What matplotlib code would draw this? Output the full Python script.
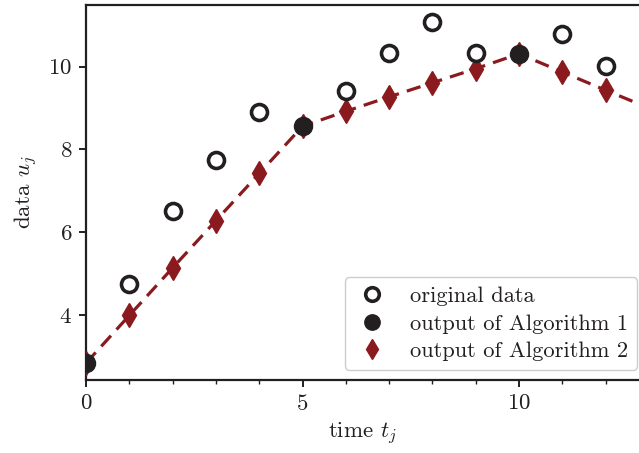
import numpy as np
import matplotlib
matplotlib.use("Agg")
import matplotlib.pyplot as plt

plt.rcParams['font.family'] = 'serif'
plt.rcParams['font.serif'] = ['cmr10', 'DejaVu Serif']
plt.rcParams['mathtext.fontset'] = 'cm'
plt.rcParams['axes.formatter.use_mathtext'] = True

# original data
t_data = [1, 2, 3, 4, 6, 7, 8, 9, 11, 12]
u_data = [4.74, 6.51, 7.75, 8.91, 9.40, 10.32, 11.08, 10.32, 10.79, 10.02]

# Algorithm 1 output
t_alg1 = [0, 5, 10]
u_alg1 = [2.84, 8.56, 10.31]

# Algorithm 2 output
t_alg2 = [0, 1, 2, 3, 4, 5, 6, 7, 8, 9, 10, 11, 12, 13]
u_alg2 = [2.84, 3.99, 5.14, 6.28, 7.42, 8.56, 8.92, 9.27, 9.61, 9.95, 10.31, 9.87, 9.43, 9.0]

dark = '#231f20'
red = '#8b1a1f'
fs = 16.5

fig = plt.figure(figsize=(6.39, 4.53), dpi=100)
ax = fig.add_axes([0.1346, 0.161, 0.8654, 0.829])

ax.plot(t_alg2, u_alg2, '--', color=red, lw=2.3, dashes=(4.5, 2.6), zorder=2)
ax.plot(t_alg2, u_alg2, 'd', color=red, ms=12, ls='none', zorder=3,
        label='output of Algorithm 2')
ax.plot(t_data, u_data, 'o', mfc='white', mec=dark, mew=2.6, ms=11.5,
        ls='none', zorder=4, label='original data')
ax.plot(t_alg1, u_alg1, 'o', color=dark, ms=13, ls='none', zorder=5,
        label='output of Algorithm 1')

ax.set_xlim(0, 12.77)
ax.set_ylim(2.43, 11.5)
ax.set_xticks([0, 5, 10])
ax.set_xticks(np.arange(0, 13), minor=True)
ax.set_yticks([4, 6, 8, 10])

for s in ['left', 'bottom', 'top']:
    ax.spines[s].set_color(dark)
    ax.spines[s].set_linewidth(1.6)
ax.spines['right'].set_visible(False)
ax.tick_params(which='major', direction='out', length=5, width=1.4,
               color=dark, labelsize=fs, labelcolor=dark, pad=5)
ax.tick_params(which='minor', direction='out', length=3, width=1.0, color=dark)

ax.set_xlabel('time $t_j$', fontsize=fs, color=dark, labelpad=5)
ax.set_ylabel('data $u_j$', fontsize=fs, color=dark, labelpad=6)

h, l = ax.get_legend_handles_labels()
order = [1, 2, 0]
leg = ax.legend([h[i] for i in order], [l[i] for i in order], loc='lower right',
                fontsize=16.2, frameon=True, fancybox=True, framealpha=1,
                edgecolor='#cccccc', borderaxespad=0, handletextpad=0.9,
                handlelength=1.6, labelspacing=0.34, markerscale=0.85,
                bbox_to_anchor=(0.9964, 0.027))
for t in leg.get_texts():
    t.set_color(dark)

fig.savefig('out.png', dpi=100)
